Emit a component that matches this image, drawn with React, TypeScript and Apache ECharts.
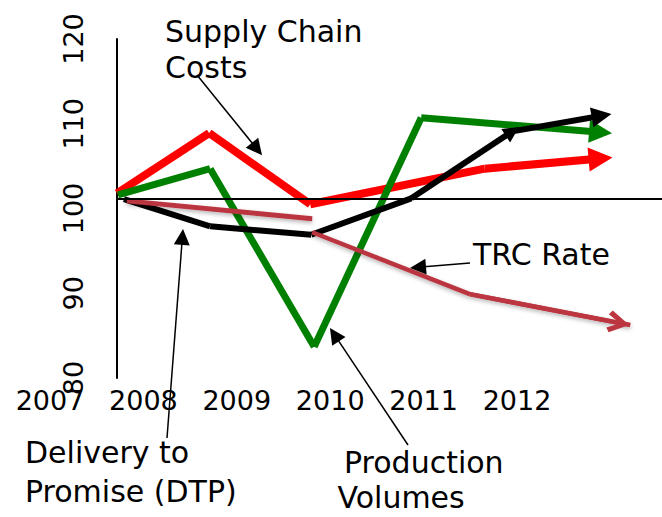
import { useEffect, useRef } from 'react';
import * as echarts from 'echarts';

// Category labels under the chart
const yearLabels = ['2007', '2008', '2009', '2010', '2011', '2012'];
// Value axis range (index)
const yMin = 80;
const yMax = 120;
const yStep = 10;
const baselineValue = 101.1;

// Series values: [year position, index value]
const supplyChainCosts: number[][] = [
  [2008.0, 101.8], [2008.93, 108.9], [2009.95, 100.5], [2011.71, 104.7], [2012.88, 105.9],
];
const productionVolumes: number[][] = [
  [2008.01, 101.6], [2008.94, 104.7], [2009.99, 83.7], [2011.07, 110.7], [2012.88, 109.0],
];
const deliveryToPromise: number[][] = [
  [2008.07, 101.1], [2008.94, 97.9], [2009.96, 96.9], [2010.97, 101.2], [2011.99, 109.1], [2012.89, 110.95],
];
const trcRateEarly: number[][] = [[2008.1, 100.9], [2009.97, 98.8]];
const trcRateLate: number[][] = [[2009.97, 97.2], [2011.56, 89.9], [2013.18, 86.25]];
const trcArrowPoint: number[] = [2013.06, 86.5];

const FONT = '"DejaVu Sans", Verdana, sans-serif';

function segs(pts: number[][]) {
  return pts.slice(1).map((p, i) => ({ coords: [pts[i], p] }));
}

function linesSeries(data: any[], color: string, width: number, symbol: any = 'none', symbolSize: number = 10, extra: any = {}) {
  return {
    type: 'lines',
    coordinateSystem: 'cartesian2d',
    xAxisIndex: 1,
    yAxisIndex: 1,
    symbol,
    symbolSize,
    silent: true,
    lineStyle: { color, width, opacity: 1, cap: 'butt', ...extra },
    data,
  };
}

export default function App() {
  const ref = useRef<HTMLDivElement>(null);
  useEffect(() => {
    if (!ref.current) return;
    const chart = echarts.init(ref.current, undefined, { renderer: 'svg' });
    const RED = '#FF0000';
    const GREEN = '#008000';
    const BLACK = '#000000';
    const BROWN = '#BB3640';
    const chevron = 'path://M9,0 L18,18 L14.5,21 L9,9 L3.5,21 L0,18 Z';

    const dl = deliveryToPromise.length;
    const sl = supplyChainCosts.length;
    const pl = productionVolumes.length;

    // annotation arrows in page pixels (third grid maps 1:1 to pixels)
    const annotationArrows = [
      { coords: [[197, 75], [257, 149]] },
      { coords: [[167, 438], [182.4, 237]] },
      { coords: [[408, 445], [334.4, 334.7]] },
      { coords: [[470, 263], [418, 267.3]] },
    ];

    const text = (t: string, x: number, y: number, size = 30) => ({
      type: 'text',
      x,
      y,
      silent: true,
      style: { text: t, font: `${size}px ${FONT}`, fill: '#000', align: 'left', verticalAlign: 'middle' },
    });

    chart.setOption({
      animation: false,
      backgroundColor: '#ffffff',
      grid: [
        { left: 50, top: 39, width: 467, height: 345 },
        { left: 117, top: 39, width: 545, height: 339 },
        { left: 0, top: 0, width: 662, height: 517 },
      ],
      xAxis: [
        {
          gridIndex: 0,
          type: 'category',
          data: yearLabels,
          boundaryGap: false,
          axisLine: { show: false },
          axisTick: { show: false },
          axisLabel: { interval: 0, margin: 3, fontSize: 27, fontFamily: FONT, color: '#000' },
        },
        { gridIndex: 1, type: 'value', min: 2008, max: 2013.5, show: false },
        { gridIndex: 2, type: 'value', min: 0, max: 662, show: false },
      ],
      yAxis: [
        { gridIndex: 0, type: 'value', show: false },
        {
          gridIndex: 1,
          type: 'value',
          min: yMin,
          max: yMax,
          interval: yStep,
          axisLine: { show: true, lineStyle: { color: '#000', width: 2 } },
          axisTick: { show: false },
          splitLine: { show: false },
          axisLabel: { rotate: 90, margin: 30, fontSize: 27, fontFamily: FONT, color: '#000' },
        },
        { gridIndex: 2, type: 'value', min: 0, max: 517, inverse: true, show: false },
      ],
      series: [
        {
          type: 'line',
          xAxisIndex: 1,
          yAxisIndex: 1,
          data: [],
          silent: true,
          markLine: {
            silent: true,
            symbol: 'none',
            label: { show: false },
            lineStyle: { color: '#000', width: 2, type: 'solid' },
            data: [{ yAxis: baselineValue }],
          },
        },
        // Supply Chain Costs (red)
        linesSeries(segs(supplyChainCosts.slice(0, sl - 1)), RED, 8),
        linesSeries(segs(supplyChainCosts.slice(sl - 2)), RED, 8, ['none', 'triangle'], 24),
        // Production Volumes (green)
        linesSeries(segs(productionVolumes.slice(0, pl - 1)), GREEN, 7),
        linesSeries(segs(productionVolumes.slice(pl - 2)), GREEN, 7, ['none', 'triangle'], 23),
        // Delivery to Promise (black)
        linesSeries(segs(deliveryToPromise.slice(0, dl - 2)), BLACK, 6),
        linesSeries(segs(deliveryToPromise.slice(dl - 3, dl - 1)), BLACK, 6, ['none', 'triangle'], 16),
        linesSeries(segs(deliveryToPromise.slice(dl - 2)), BLACK, 6, ['none', 'triangle'], 20),
        // TRC Rate (dark red)
        linesSeries(segs(trcRateEarly), BROWN, 5, 'none', 10, { shadowBlur: 4, shadowColor: 'rgba(0,0,0,0.3)', shadowOffsetY: 2 }),
        linesSeries(segs(trcRateLate), BROWN, 4.5, 'none', 10, { shadowBlur: 4, shadowColor: 'rgba(0,0,0,0.3)', shadowOffsetY: 2 }),
        linesSeries([{ coords: [trcRateLate[1], trcArrowPoint] }], BROWN, 4.5, ['none', chevron], 22),
        // annotation arrows
        {
          type: 'lines',
          coordinateSystem: 'cartesian2d',
          xAxisIndex: 2,
          yAxisIndex: 2,
          symbol: ['none', 'triangle'],
          symbolSize: 16,
          silent: true,
          lineStyle: { color: '#000', width: 1.5, opacity: 1 },
          data: annotationArrows,
        },
      ],
      graphic: [
        text('Supply Chain', 165, 31.5),
        text('Costs', 165, 67.5),
        text('TRC Rate', 473, 254.5),
        text('Delivery to', 25, 452.5),
        text('Promise (DTP)', 25, 491.5),
        text('Production', 344, 462.5),
        text('Volumes', 337.5, 497.5),
      ],
    });
    return () => chart.dispose();
  }, []);
  return <div ref={ref} style={{ position: 'fixed', left: 0, top: 0, width: 662, height: 517 }} />;
}
